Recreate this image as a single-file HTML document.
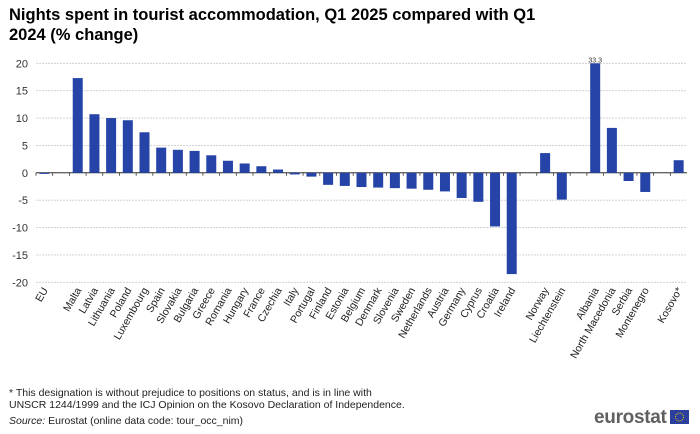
<!DOCTYPE html>
<html><head><meta charset="utf-8">
<style>
body{margin:0;background:#fff;font-family:"Liberation Sans",Arial,sans-serif;}
#wrap{position:relative;width:700px;height:434px;overflow:hidden;}
#title{position:absolute;left:9px;top:5px;font-size:16.5px;font-weight:bold;line-height:20px;color:#000;width:545px;}
.foot{position:absolute;left:9px;font-size:10.5px;color:#222;}
#logo{position:absolute;left:594px;top:407px;font-size:19px;font-weight:bold;color:#5f6062;letter-spacing:-0.3px;}
#flag{position:absolute;left:670px;top:410px;width:19px;height:14px;background:#2c3f9c;}
</style></head><body>
<div id="wrap">
<div id="title">Nights spent in tourist accommodation, Q1 2025 compared with Q1 2024 (% change)</div>
<svg id="chart" width="700" height="434" style="position:absolute;left:0;top:0"></svg>
<div class="foot" style="top:387px">* This designation is without prejudice to positions on status, and is in line with<br>UNSCR 1244/1999 and the ICJ Opinion on the Kosovo Declaration of Independence.</div>
<div class="foot" style="top:415px"><i>Source:</i> Eurostat (online data code: tour_occ_nim)</div>
<div id="logo">eurostat</div>
<div id="flag"><svg width="19" height="14"><circle cx="9.5" cy="7" r="4" fill="none" stroke="#f3d400" stroke-width="1" stroke-dasharray="1 1.1"/></svg></div>
</div>
<script>
const categories=["EU","","Malta","Latvia","Lithuania","Poland","Luxembourg","Spain","Slovakia","Bulgaria","Greece","Romania","Hungary","France","Czechia","Italy","Portugal","Finland","Estonia","Belgium","Denmark","Slovenia","Sweden","Netherlands","Austria","Germany","Cyprus","Croatia","Ireland","","Norway","Liechtenstein","","Albania","North Macedonia","Serbia","Montenegro","","Kosovo*"];
const values=[-0.2,null,17.3,10.7,10.0,9.6,7.4,4.6,4.2,4.0,3.2,2.2,1.7,1.2,0.6,-0.3,-0.7,-2.2,-2.4,-2.6,-2.7,-2.8,-2.9,-3.1,-3.4,-4.6,-5.3,-9.8,-18.5,null,3.6,-4.9,null,33.3,8.2,-1.5,-3.5,null,2.3];
const yTicks=[20,15,10,5,0,-5,-10,-15,-20];
const NS="http://www.w3.org/2000/svg";
const svg=document.getElementById('chart');
const x0=36,x1=687,yTop=63.3,yBot=282.3,vMax=20,vMin=-20;
const slot=(x1-x0)/categories.length;
function yS(v){return yTop+(vMax-v)/(vMax-vMin)*(yBot-yTop);}
function xS(i){return x0+(i+0.5)*slot;}
function mk(t,a){const e=document.createElementNS(NS,t);for(const k in a)e.setAttribute(k,a[k]);svg.appendChild(e);return e;}
yTicks.forEach(t=>{
 const g=mk('line',{x1:x0,x2:x1,y1:yS(t),y2:yS(t),stroke:'#ccc','stroke-dasharray':'2 1','stroke-width':0.8});
 
 
 const l=mk('text',{x:28,y:yS(t)+4,'text-anchor':'end','font-size':11,fill:'#333'});
 l.textContent=t;
 
 
});
const ax=mk('line',{x1:x0,x2:x1,y1:yS(0),y2:yS(0),stroke:'#333','stroke-width':1});


categories.forEach((c,i)=>{
 const tk=mk('line',{x1:x0+i*slot,x2:x0+i*slot,y1:yS(0),y2:yS(0)+3,stroke:'#333','stroke-width':0.8});
 
 
 const v=values[i];
 if(v!==null){
  const vc=Math.max(vMin,Math.min(vMax,v));
  const ya=yS(Math.max(0,vc)),yb=yS(Math.min(0,vc));
  const r=mk('rect',{x:xS(i)-5,y:ya,width:10,height:Math.max(0.8,yb-ya),fill:'#2644a7'});
  
  
  if(v>vMax){
   const vl=mk('text',{x:xS(i),y:yS(vMax)-1,'text-anchor':'middle','font-size':7,fill:'#333'});
   vl.textContent=v.toFixed(1);
   
   
  }
 }
 if(c){
  const lx=xS(i)+4,ly=290;
  const t=mk('text',{x:lx,y:ly,'text-anchor':'end','font-size':10.5,fill:'#222',transform:`rotate(-60 ${lx} ${ly})`});
  t.textContent=c;
  
  
 }
});
</script>
</body></html>
